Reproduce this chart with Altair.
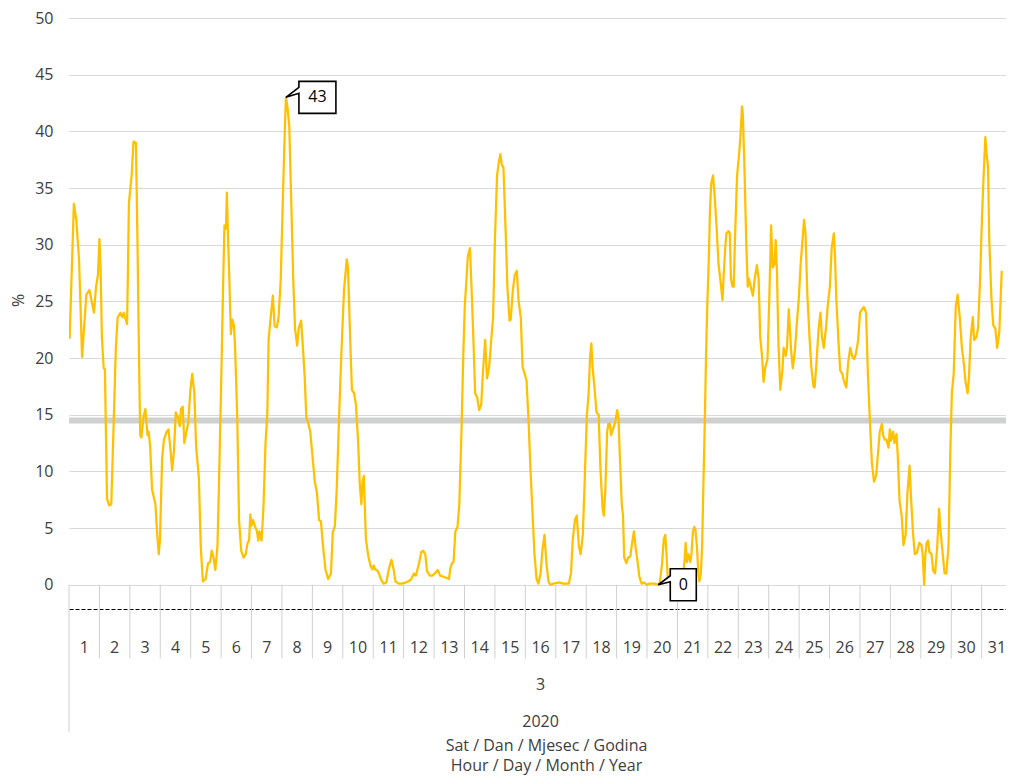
import altair as alt
import pandas as pd

# ---------------- data ----------------
# position in days from the start of 1 March 2020 (fractional = hour of day / 24)
time_days = [
    0.02, 0.16, 0.24, 0.33, 0.43, 0.57, 0.67, 0.76, 0.82, 0.89, 0.95, 1.00, 1.04, 1.08, 1.14, 1.18,
    1.25, 1.32, 1.39, 1.46, 1.54, 1.60, 1.69, 1.76, 1.80, 1.84, 1.91, 1.97, 2.06, 2.12, 2.20, 2.25,
    2.30, 2.34, 2.38, 2.45, 2.51, 2.58, 2.62, 2.67, 2.73, 2.84, 2.90, 2.95, 2.99, 3.06, 3.12, 3.21,
    3.27, 3.34, 3.39, 3.45, 3.51, 3.58, 3.64, 3.68, 3.74, 3.79, 3.86, 3.92, 3.99, 4.05, 4.12, 4.18,
    4.27, 4.33, 4.40, 4.49, 4.57, 4.64, 4.69, 4.75, 4.81, 4.88, 4.94, 5.01, 5.07, 5.11, 5.16, 5.19,
    5.22, 5.27, 5.32, 5.37, 5.42, 5.46, 5.53, 5.59, 5.66, 5.74, 5.81, 5.87, 5.92, 5.96, 6.00, 6.05,
    6.11, 6.18, 6.22, 6.26, 6.33, 6.39, 6.46, 6.52, 6.56, 6.63, 6.70, 6.76, 6.83, 6.89, 6.96, 7.02,
    7.09, 7.13, 7.18, 7.24, 7.30, 7.37, 7.43, 7.50, 7.55, 7.63, 7.69, 7.75, 7.80, 7.87, 7.93,
    8.08, 8.15, 8.22, 8.28, 8.35, 8.43, 8.52, 8.61, 8.67, 8.74, 8.80, 8.87, 8.95, 9.04, 9.13, 9.17,
    9.24, 9.30, 9.37, 9.43, 9.50, 9.56, 9.61, 9.65, 9.69, 9.76, 9.84, 9.91, 9.97, 10.02, 10.06, 10.12,
    10.19, 10.25, 10.34, 10.43, 10.51, 10.60, 10.67, 10.73, 10.84, 10.95, 11.06, 11.16, 11.25, 11.34,
    11.40, 11.49, 11.58, 11.64, 11.71, 11.77, 11.86, 11.94, 12.03, 12.12, 12.20, 12.31, 12.42, 12.49,
    12.53, 12.59, 12.64, 12.70, 12.77, 12.83, 12.90, 12.96, 13.01, 13.05, 13.11, 13.18, 13.22, 13.29,
    13.35, 13.42, 13.48, 13.55, 13.61, 13.68, 13.74, 13.81, 13.87, 13.94, 14.00, 14.07, 14.13, 14.18,
    14.22, 14.28, 14.35, 14.41, 14.48, 14.52, 14.59, 14.65, 14.72, 14.78, 14.85, 14.91, 14.98, 15.04,
    15.11, 15.17, 15.24, 15.30, 15.37, 15.43, 15.50, 15.56, 15.63, 15.69, 15.76, 15.82, 15.93,
    16.13, 16.24, 16.35, 16.43, 16.50, 16.56, 16.63, 16.69, 16.76, 16.82, 16.89, 16.95, 17.02, 17.08,
    17.13, 17.17, 17.21, 17.28, 17.34, 17.41, 17.47, 17.54, 17.58, 17.63, 17.69, 17.73, 17.78, 17.82,
    17.89, 17.95, 18.02, 18.06, 18.10, 18.17, 18.21, 18.25, 18.32, 18.38, 18.45, 18.51, 18.57, 18.62,
    18.69, 18.75, 18.82, 18.90, 18.99, 19.08, 19.16, 19.25, 19.37, 19.42, 19.49, 19.55, 19.60, 19.64,
    19.68, 19.75, 19.86, 19.97, 20.07, 20.16, 20.23, 20.27, 20.31, 20.36, 20.42, 20.46, 20.51, 20.55,
    20.59, 20.64, 20.68, 20.72, 20.77, 20.81, 20.85, 20.90, 20.94, 20.98, 21.03, 21.07, 21.11, 21.17,
    21.22, 21.29, 21.35, 21.42, 21.48, 21.52, 21.57, 21.61, 21.68, 21.72, 21.76, 21.81, 21.85, 21.89,
    21.96, 22.02, 22.07, 22.12, 22.15, 22.20, 22.26, 22.31, 22.35, 22.41, 22.48, 22.54, 22.61, 22.67,
    22.72, 22.78, 22.83, 22.89, 22.96, 23.02,
    23.08, 23.13, 23.19, 23.23, 23.27, 23.32, 23.38, 23.45, 23.49, 23.56, 23.60, 23.66, 23.73, 23.79,
    23.86, 23.92, 23.99, 24.05, 24.12, 24.16, 24.21, 24.27, 24.34, 24.40, 24.47, 24.51, 24.57, 24.64,
    24.70, 24.75, 24.81, 24.88, 24.94, 25.01, 25.07, 25.14, 25.18, 25.22, 25.29, 25.35, 25.42, 25.48,
    25.55, 25.61, 25.68, 25.74, 25.81, 25.87, 25.94, 26.00, 26.07, 26.13, 26.20, 26.26, 26.33, 26.39,
    26.46, 26.53, 26.59, 26.65, 26.72, 26.76, 26.81, 26.87, 26.94, 26.98, 27.02, 27.09, 27.13, 27.20,
    27.24, 27.30, 27.37, 27.43, 27.50, 27.56, 27.63, 27.67, 27.74, 27.80, 27.87, 27.95, 28.02, 28.06,
    28.11, 28.15, 28.19, 28.24, 28.28, 28.35, 28.41, 28.47, 28.54, 28.60, 28.65, 28.71, 28.78, 28.84,
    28.91, 28.97, 29.02, 29.08, 29.15, 29.21, 29.28, 29.35, 29.41, 29.47, 29.54, 29.58, 29.64, 29.71,
    29.75, 29.82, 29.88, 29.95, 30.01, 30.06, 30.12, 30.16, 30.21, 30.25, 30.32, 30.38, 30.45, 30.51,
    30.58, 30.62, 30.66,
]

percent = [
    21.7, 33.6, 32.2, 28.7, 20.1, 25.6, 26.0, 24.8, 24.0, 26.3, 27.3, 30.5, 27.7, 21.9, 19.1, 19.0,
    7.6, 7.0, 7.1, 13.5, 20.9, 23.6, 24.0, 23.6, 24.0, 23.6, 23.0, 33.7, 36.1, 39.1, 39.0, 30.4,
    20.2, 13.2, 13.0, 14.8, 15.5, 13.2, 13.5, 12.1, 8.4, 7.1, 4.4, 2.7, 4.0, 11.1, 12.8, 13.5,
    13.7, 11.8, 10.1, 11.8, 15.2, 14.8, 14.0, 15.5, 15.7, 12.5, 13.5, 14.3, 17.2, 18.6, 16.9, 12.1,
    9.4, 3.4, 0.3, 0.5, 1.9, 2.0, 3.0, 2.4, 1.3, 3.4, 10.1, 18.9, 27.0, 31.7, 31.4, 34.6,
    31.4, 27.0, 22.1, 23.4, 22.9, 20.9, 14.8, 5.7, 3.0, 2.4, 2.7, 3.7, 3.9, 6.2, 5.2, 5.7,
    5.2, 4.7, 3.9, 4.7, 3.9, 6.7, 12.5, 15.2, 21.6, 23.6, 25.5, 22.8, 22.7, 23.6, 27.0, 33.1,
    39.8, 43.0, 42.2, 40.5, 34.4, 27.0, 22.6, 21.1, 22.6, 23.3, 20.9, 18.2, 14.8, 14.2, 13.5,
    9.1, 8.1, 5.7, 5.6, 3.4, 1.35, 0.5, 1.0, 4.6, 5.2, 8.4, 14.2, 20.2, 26.0, 28.7, 28.0,
    21.9, 17.2, 16.9, 15.9, 12.8, 8.8, 7.1, 9.1, 9.6, 4.0, 2.5, 1.7, 1.35, 1.7, 1.35, 1.3,
    1.0, 0.5, 0.1, 0.2, 1.35, 2.2, 1.35, 0.3, 0.1, 0.1, 0.2, 0.3, 0.5, 1.0,
    0.8, 1.7, 2.9, 3.0, 2.7, 1.2, 0.8, 0.8, 1.0, 1.3, 0.8, 0.7, 0.6, 0.5,
    1.4, 1.9, 2.0, 4.7, 5.1, 7.1, 13.5, 20.2, 24.6, 26.3, 29.0, 29.7, 27.0, 21.9,
    16.9, 16.5, 15.4, 15.9, 18.9, 21.6, 18.2, 19.2, 21.3, 23.6, 30.4, 36.1, 37.3, 38.0,
    37.1, 36.8, 31.4, 26.3, 23.3, 23.4, 26.0, 27.3, 27.7, 25.0, 23.6, 19.2, 18.6, 18.0,
    14.2, 10.1, 6.1, 2.7, 0.5, 0.1, 1.0, 3.0, 4.4, 2.0, 0.3, 0.0, 0.1,
    0.2, 0.1, 0.1, 0.1, 1.0, 4.0, 5.7, 6.1, 3.4, 2.7, 4.4, 9.1, 14.8, 16.9,
    20.2, 21.3, 19.2, 17.2, 15.2, 15.0, 10.1, 6.7, 6.1, 8.4, 13.5, 14.2, 14.2, 13.2,
    13.8, 14.3, 15.4, 14.8, 11.8, 7.1, 6.1, 2.4, 1.9, 2.4, 2.5, 3.7, 4.7, 3.4,
    2.0, 0.7, 0.1, 0.2, 0.0, 0.1, 0.1, 0.1, 0.0, 0.2, 1.7, 4.0, 4.4, 2.7,
    0.7, 0.2, 0.1, 0.1, 0.1, 0.3, 2.0, 3.7, 2.0, 2.7, 2.0, 2.7, 4.7, 5.1,
    4.9, 3.4, 1.35, 0.3, 1.0, 3.4, 8.4, 14.5, 20.2, 24.6, 28.7, 33.1, 35.4, 36.1,
    34.4, 31.4, 28.3, 26.7, 25.1, 27.3, 29.7, 31.0, 31.2, 31.0, 27.0, 26.3, 26.3, 30.4,
    36.1, 37.8, 39.5, 42.2, 41.5, 37.1, 30.4, 26.3, 27.0, 26.3, 25.5, 27.0, 28.2, 27.0,
    21.9, 20.2, 17.9, 19.2, 19.9, 25.3,
    31.7, 28.0, 28.3, 30.4, 27.7, 21.3, 17.2, 18.9, 20.9, 20.2, 20.9, 24.3, 20.9, 19.1,
    20.6, 22.9, 25.3, 28.3, 30.7, 32.2, 31.0, 25.6, 21.9, 19.2, 17.5, 17.4, 19.6, 22.6,
    24.0, 21.9, 20.9, 22.6, 24.6, 26.3, 29.7, 31.0, 29.0, 25.3, 21.6, 18.9, 18.6, 17.9,
    17.4, 19.6, 20.9, 20.2, 19.9, 20.4, 21.6, 24.0, 24.3, 24.5, 24.0, 18.6, 14.2, 10.8,
    9.1, 9.6, 11.5, 13.5, 14.2, 13.2, 12.8, 12.8, 12.1, 13.7, 12.7, 13.5, 12.5, 13.3,
    11.5, 7.4, 6.1, 3.5, 4.4, 8.1, 10.5, 8.1, 4.7, 2.7, 2.8, 3.7, 3.5, 2.7,
    0.0, 2.7, 3.7, 3.9, 2.9, 2.7, 1.2, 1.0, 3.4, 6.7, 4.7, 3.0, 1.0, 1.0,
    3.4, 11.8, 16.9, 18.6, 24.6, 25.6, 23.6, 20.9, 19.6, 17.9, 16.9, 18.2, 21.9, 23.6,
    21.6, 21.8, 22.6, 27.0, 32.4, 35.8, 39.5, 38.1, 36.8, 30.4, 25.3, 22.9, 22.6, 20.9,
    22.3, 25.0, 27.7,
]

days = list(range(1, 32))           # day-of-month category labels
month_label = ["3"]
year_label = ["2020"]
mean_level = [14.5]                  # grey reference band
y_ticks = [0, 5, 10, 15, 20, 25, 30, 35, 40, 45, 50]
callout_time = [7.13, 19.37]
callout_value = [43, 0]
callout_text = ["43", "0"]

# ---------------- styling ----------------
FONT = "Open Sans"
TEXT = "#404040"
GRID = "#d9d9d9"
LINE = "#FFC000"
W, H = 937, 591
X_END = 30.8           # visible part of the month (the reference is cut at the right edge)
YMIN = -2.14

xs = alt.Scale(domain=[0, X_END], nice=False, zero=False)
ys = alt.Scale(domain=[YMIN, 50], nice=False, zero=False)

df = pd.DataFrame({"t": time_days, "v": percent})

x_axis = alt.Axis(
    labels=False, grid=False, ticks=False, tickSize=0,
    domain=True, domainColor="#000000", domainDash=[4, 2], domainWidth=1,
    title=["Sat / Dan / Mjesec / Godina", "Hour / Day / Month / Year"],
    titleFont=FONT, titleFontSize=16, titleFontWeight="normal", titleColor=TEXT,
    titleLineHeight=20, titleBaseline="top", titleY=128, titleX=477,
)
y_axis = alt.Axis(
    values=y_ticks, grid=True, gridColor=GRID, gridWidth=1,
    domain=False, ticks=False, tickSize=0, labelPadding=16,
    labelFont=FONT, labelFontSize=16, labelColor=TEXT,
    title="%", titleFont=FONT, titleFontSize=16, titleFontWeight="normal",
    titleColor=TEXT, titleAngle=270, titleX=-51, titleY=282,
    titleBaseline="middle", titleAlign="center",
)

# day separators (first one extends through month / year rows)
sep = pd.DataFrame({
    "b": [d - 1 for d in days],
    "y0": [0.0] * len(days),
    "y1": [-13.0] + [-6.5] * (len(days) - 1),
})
separators = alt.Chart(sep).mark_rule(color="#d0d0d0", strokeWidth=1).encode(
    x=alt.X("b:Q", scale=xs, axis=x_axis),
    y=alt.Y("y0:Q", scale=ys, axis=y_axis),
    y2="y1:Q",
)

# day-of-month labels of the category axis
day_df = pd.DataFrame({"c": [d - 0.5 for d in days], "y": [-5.57] * len(days),
                       "label": [str(d) for d in days]})
day_text = alt.Chart(day_df).mark_text(
    font=FONT, fontSize=16, color=TEXT, align="center", baseline="middle"
).encode(x=alt.X("c:Q", scale=xs), y=alt.Y("y:Q", scale=ys), text="label:N")

band = alt.Chart(pd.DataFrame({"m": mean_level})).mark_rule(
    color="#cfd1d0", strokeWidth=6
).encode(y=alt.Y("m:Q", scale=ys))

line = alt.Chart(df).mark_line(
    color=LINE, strokeWidth=2.25, strokeJoin="round", clip=True
).encode(
    x=alt.X("t:Q", scale=xs),
    y=alt.Y("v:Q", scale=ys),
)

mid = (days[0] - 1 + days[-1]) / 2
group_df = pd.DataFrame({"t": [mid, mid], "y": [-8.82, -12.08],
                         "label": month_label + year_label})
group_text = alt.Chart(group_df).mark_text(
    font=FONT, fontSize=16, color=TEXT, align="center", baseline="middle"
).encode(x=alt.X("t:Q", scale=xs), y=alt.Y("y:Q", scale=ys), text="label:N")

call_df = pd.DataFrame({"t": callout_time, "v": callout_value, "label": callout_text})
shapes = [
    ("M0,0L13,-10L13,-16L50,-16L50,16L13,16L13,-4Z", 31.5),
    ("M0,0L12,-9L12,-16L38,-16L38,16L12,16L12,-3Z", 25),
]
callouts = []
for i, (path, dx) in enumerate(shapes):
    sub = call_df.iloc[[i]]
    callouts.append(
        alt.Chart(sub).mark_point(
            shape=path, size=4, filled=True, fill="white", stroke="black",
            strokeWidth=1.6, opacity=1
        ).encode(x=alt.X("t:Q", scale=xs), y=alt.Y("v:Q", scale=ys))
    )
    callouts.append(
        alt.Chart(sub).mark_text(
            font=FONT, fontSize=16, color="black", align="center",
            baseline="middle", dx=dx
        ).encode(x=alt.X("t:Q", scale=xs), y=alt.Y("v:Q", scale=ys), text="label:N")
    )

chart = alt.layer(separators, band, line, day_text, group_text, *callouts).properties(
    width=W, height=H,
    padding={"left": 61, "top": 10, "right": 0, "bottom": 167},
    autosize=alt.AutoSizeParams(type="none"),
    background="white",
).configure_view(stroke=None)

chart.save("out.html", embed_options={"renderer": "svg", "actions": False})
